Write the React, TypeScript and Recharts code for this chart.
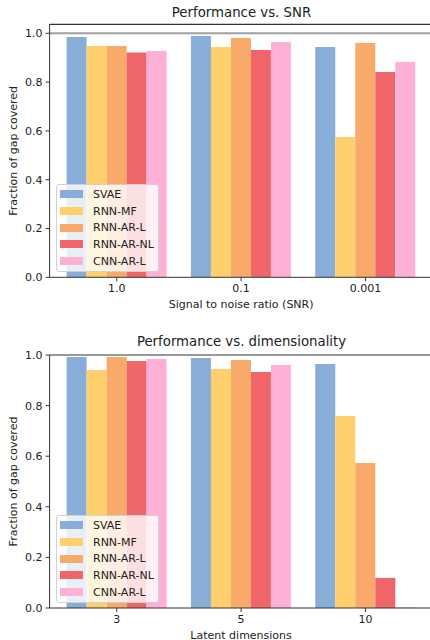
import React from 'react';
import { BarChart, Bar, XAxis, YAxis, Legend, ReferenceLine } from 'recharts';

const MODELS = ['SVAE', 'RNN-MF', 'RNN-AR-L', 'RNN-AR-NL', 'CNN-AR-L'];
const COLORS = ['#88add7', '#fecf6c', '#f9a96a', '#ef6568', '#feb0d7'];

// top panel: performance vs. SNR
const SNR_LABELS = ['1.0', '0.1', '0.001'];
const SNR_SVAE = [0.985, 0.989, 0.944];
const SNR_RNN_MF = [0.948, 0.944, 0.575];
const SNR_RNN_AR_L = [0.948, 0.981, 0.96];
const SNR_RNN_AR_NL = [0.921, 0.932, 0.841];
const SNR_CNN_AR_L = [0.928, 0.964, 0.882];

// bottom panel: performance vs. latent dimensions
const DIM_LABELS = ['3', '5', '10'];
const DIM_SVAE = [0.992, 0.988, 0.964];
const DIM_RNN_MF = [0.941, 0.945, 0.759];
const DIM_RNN_AR_L = [0.992, 0.98, 0.573];
const DIM_RNN_AR_NL = [0.976, 0.933, 0.119];
const DIM_CNN_AR_L = [0.984, 0.96, 0.003];

const Y_TICKS = [0, 0.2, 0.4, 0.6, 0.8, 1.0];
const FONT = '"DejaVu Sans", sans-serif';
const INK = '#222';
const SPINE = '#333';

function buildRows(labels: string[], series: number[][]) {
  return labels.map((name, i) => {
    const row: Record<string, string | number> = { name };
    MODELS.forEach((m, j) => {
      row[m] = series[j][i];
    });
    return row;
  });
}

const snrData = buildRows(SNR_LABELS, [SNR_SVAE, SNR_RNN_MF, SNR_RNN_AR_L, SNR_RNN_AR_NL, SNR_CNN_AR_L]);
const dimData = buildRows(DIM_LABELS, [DIM_SVAE, DIM_RNN_MF, DIM_RNN_AR_L, DIM_RNN_AR_NL, DIM_CNN_AR_L]);

// recharts sorts the payload alphabetically, so keep the series order by hand
function LegendBox() {
  return (
    <div
      style={{
        background: 'rgba(255,255,255,0.8)',
        border: '1px solid #d0d0d0',
        borderRadius: 3,
        width: 101,
        height: 85,
        boxSizing: 'content-box',
        fontFamily: FONT,
        fontSize: 11,
        color: INK,
        paddingTop: 1,
      }}
    >
      {MODELS.map((m, i) => (
        <div key={m} style={{ display: 'flex', alignItems: 'center', height: 16.7 }}>
          <span style={{ display: 'inline-block', width: 23, height: 8, marginLeft: 3, marginRight: 10, background: COLORS[i] }} />
          <span style={{ lineHeight: '1' }}>{m}</span>
        </div>
      ))}
    </div>
  );
}

interface PanelProps {
  title: string;
  xLabel: string;
  data: Record<string, string | number>[];
  yMax: number;
  plotTop: number;
  axisHeight: number;
  labelOffset: number;
  titleTop: number;
  legendTop: number;
  refLine?: boolean;
}

function Panel({ title, xLabel, data, yMax, plotTop, axisHeight, labelOffset, titleTop, legendTop, refLine }: PanelProps) {
  return (
    <div style={{ position: 'relative', width: 440, height: 320 }}>
      <div
        style={{
          position: 'absolute',
          top: titleTop,
          left: 50,
          width: 383,
          textAlign: 'center',
          fontFamily: FONT,
          fontSize: 13.3,
          lineHeight: '1',
          color: INK,
          zIndex: 2,
        }}
      >
        {title}
      </div>
      <BarChart
        width={440}
        height={320}
        data={data}
        margin={{ top: plotTop, right: 7.4, bottom: 0, left: 0 }}
        barGap={0}
      >
        <XAxis
          dataKey="name"
          height={axisHeight}
          padding={{ left: 5, right: 5 }}
          tickSize={4}
          tickMargin={3}
          tick={{ fill: INK, fontSize: 11, fontFamily: FONT }}
          axisLine={{ stroke: SPINE }}
          tickLine={{ stroke: SPINE }}
          label={{ value: xLabel, position: 'insideBottom', offset: labelOffset, fill: INK, fontSize: 11, fontFamily: FONT }}
        />
        <YAxis
          type="number"
          domain={[0, yMax]}
          ticks={Y_TICKS}
          allowDataOverflow
          width={49.6}
          tickSize={4}
          tickMargin={3}
          tickFormatter={(v: number) => v.toFixed(1)}
          tick={{ fill: INK, fontSize: 11, fontFamily: FONT }}
          axisLine={{ stroke: SPINE }}
          tickLine={{ stroke: SPINE }}
          label={{
            value: 'Fraction of gap covered',
            angle: -90,
            position: 'insideLeft',
            offset: 13,
            style: { textAnchor: 'middle' },
            fill: INK,
            fontSize: 11,
            fontFamily: FONT,
          }}
        />
        {MODELS.map((m, i) => (
          <Bar key={m} dataKey={m} name={m} fill={COLORS[i]} barSize={20} isAnimationActive={false} />
        ))}
        {refLine && <ReferenceLine y={1} stroke="#a0a0a0" strokeWidth={2} ifOverflow="visible" />}
        <ReferenceLine y={yMax} stroke={SPINE} strokeWidth={1.2} ifOverflow="visible" />
        <Legend
          layout="vertical"
          align="center"
          verticalAlign="middle"
          content={<LegendBox />}
          wrapperStyle={{ position: 'absolute', left: 56, top: legendTop, width: 103, height: 87 }}
        />
      </BarChart>
    </div>
  );
}

export default function App() {
  return (
    <div style={{ position: 'fixed', left: 0, top: 0, width: 430, height: 640, overflow: 'hidden', background: '#fff' }}>
      <Panel
        title="Performance vs. SNR"
        xLabel="Signal to noise ratio (SNR)"
        data={snrData}
        yMax={1.037}
        plotTop={24.3}
        axisHeight={42.7}
        labelOffset={12.5}
        titleTop={5.8}
        legendTop={184}
        refLine
      />
      <Panel
        title="Performance vs. dimensionality"
        xLabel="Latent dimensions"
        data={dimData}
        yMax={1}
        plotTop={35}
        axisHeight={32}
        labelOffset={1.5}
        titleTop={15.2}
        legendTop={195}
      />
    </div>
  );
}
